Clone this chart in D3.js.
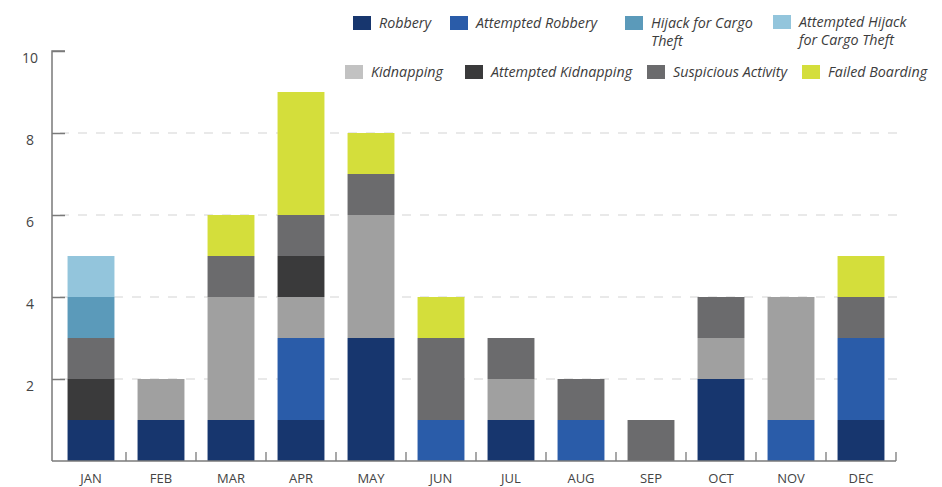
<!DOCTYPE html>
<html>
<head>
<meta charset="utf-8">
<script src="https://cdn.jsdelivr.net/npm/d3@7"></script>
<style>
  body { margin: 0; background: #fff; }
  svg { display: block; font-family: "Open Sans", sans-serif; }
</style>
</head>
<body>
<div id="chart"></div>
<script>
// Months on the x axis
var months = ["JAN","FEB","MAR","APR","MAY","JUN","JUL","AUG","SEP","OCT","NOV","DEC"];

// Incident counts per month, one array per category (stack order bottom -> top)
var robbery            = [1,1,1,1,3,0,1,0,0,2,0,1];
var attemptedRobbery   = [0,0,0,2,0,1,0,1,0,0,1,2];
var kidnapping         = [0,1,3,1,3,0,1,0,0,1,3,0];
var attemptedKidnap    = [1,0,0,1,0,0,0,0,0,0,0,0];
var suspicious         = [1,0,1,1,1,2,1,1,1,1,0,1];
var hijackCargo        = [1,0,0,0,0,0,0,0,0,0,0,0];
var attemptedHijack    = [1,0,0,0,0,0,0,0,0,0,0,0];
var failedBoarding     = [0,0,1,3,1,1,0,0,0,0,0,1];

var yTicks = [2,4,6,8,10];

var series = [
	{ key: "robbery",  label: ["Robbery"],                          values: robbery,          color: "#17366e", swatch: "#17366e" },
	{ key: "attRob",   label: ["Attempted Robbery"],                values: attemptedRobbery, color: "#2a5ca9", swatch: "#2a5ca9" },
	{ key: "kidnap",   label: ["Kidnapping"],                       values: kidnapping,       color: "#a0a0a0", swatch: "#c2c2c2" },
	{ key: "attKid",   label: ["Attempted Kidnapping"],             values: attemptedKidnap,  color: "#3a3a3b", swatch: "#3a3a3b" },
	{ key: "susp",     label: ["Suspicious Activity"],              values: suspicious,       color: "#6b6b6d", swatch: "#6b6b6d" },
	{ key: "hijack",   label: ["Hijack for Cargo", "Theft"],        values: hijackCargo,      color: "#5b9aba", swatch: "#5b9aba" },
	{ key: "attHij",   label: ["Attempted Hijack", "for Cargo Theft"], values: attemptedHijack, color: "#93c5dc", swatch: "#93c5dc" },
	{ key: "failed",   label: ["Failed Boarding"],                  values: failedBoarding,   color: "#d4de3b", swatch: "#d4de3b" }
];

// Legend layout (order as shown in the picture)
var legendOrder = ["robbery","attRob","hijack","attHij","kidnap","attKid","susp","failed"];
var legendPos = {
	robbery: [353, 16], attRob: [450, 16], hijack: [625, 16], attHij: [773, 15],
	kidnap:  [345, 65], attKid: [465, 65], susp:   [647, 65], failed: [802, 65]
};

var W = 942, H = 487;
var axisX = 52, plotRight = 896, plotBottom = 461, plotTop = 51;

var svg = d3.select('#chart').append('svg')
	.attr('width', W)
	.attr('height', H);

var x = d3.scaleBand()
	.domain(months)
	.range([56, plotRight])
	.paddingInner(0.33)
	.paddingOuter(0.165);

var y = d3.scaleLinear()
	.domain([0, 10])
	.range([plotBottom, plotTop]);

// Dashed gridlines
svg.append('g')
	.selectAll('line')
	.data(yTicks.filter(function(d) { return d < 10; }))
	.enter()
	.append('line')
	.attr('x1', 58)
	.attr('x2', plotRight + 4)
	.attr('y1', function(d) { return y(d); })
	.attr('y2', function(d) { return y(d); })
	.attr('stroke', '#d4d4d4')
	.attr('stroke-width', 1.2)
	.attr('stroke-dasharray', '9,9')
	.attr('stroke-dashoffset', -20);

// Stacked bars
var table = months.map(function(m, i) {
	var row = { month: m };
	series.forEach(function(s) { row[s.key] = s.values[i]; });
	return row;
});
var stack = d3.stack().keys(series.map(function(s) { return s.key; }));
var layers = stack(table);

svg.append('g')
	.selectAll('g')
	.data(layers)
	.enter()
	.append('g')
	.attr('fill', function(d, i) { return series[i].color; })
	.selectAll('rect')
	.data(function(d) { return d.filter(function(p) { return p[1] > p[0]; }); })
	.enter()
	.append('rect')
	.attr('x', function(d) { return x(d.data.month); })
	.attr('width', x.bandwidth())
	.attr('y', function(d) { return y(d[1]); })
	.attr('height', function(d) { return y(d[0]) - y(d[1]); });

// Y axis (ticks pointing inward)
var yAxis = svg.append('g')
	.attr('transform', 'translate(' + axisX + ',0)')
	.call(d3.axisRight(y).tickValues(yTicks).tickSize(13).tickFormat(d3.format('d')));
yAxis.select('.domain')
	.attr('d', 'M13,' + plotTop + 'H0V' + plotBottom);
yAxis.selectAll('line').attr('stroke', '#7a7a7a').attr('stroke-width', 1.5);
yAxis.select('.domain').attr('stroke', '#7a7a7a').attr('stroke-width', 1.5);
yAxis.selectAll('text')
	.attr('x', -22)
	.attr('y', 7)
	.attr('text-anchor', 'middle')
	.attr('fill', '#444')
	.style('font-size', '14px')
	.style('font-family', '"Open Sans", sans-serif');

// X axis baseline and separator ticks between months
svg.append('line')
	.attr('x1', axisX).attr('x2', plotRight)
	.attr('y1', plotBottom).attr('y2', plotBottom)
	.attr('stroke', '#7a7a7a').attr('stroke-width', 1.5);

var gap = (x.step() - x.bandwidth()) / 2;
svg.append('g')
	.selectAll('line')
	.data(months)
	.enter()
	.append('line')
	.attr('x1', function(d) { return x(d) + x.bandwidth() + gap; })
	.attr('x2', function(d) { return x(d) + x.bandwidth() + gap; })
	.attr('y1', plotBottom)
	.attr('y2', plotBottom - 9)
	.attr('stroke', '#7a7a7a')
	.attr('stroke-width', 1.3);

svg.append('g')
	.selectAll('text')
	.data(months)
	.enter()
	.append('text')
	.attr('x', function(d) { return x(d) + x.bandwidth() / 2; })
	.attr('y', 483)
	.attr('text-anchor', 'middle')
	.attr('fill', '#444')
	.style('font-size', '13px')
	.text(function(d) { return d; });

// Legend
var legend = svg.append('g');
legendOrder.forEach(function(k) {
	var s = series.find(function(d) { return d.key === k; });
	var p = legendPos[k];
	legend.append('rect')
		.attr('x', p[0]).attr('y', p[1])
		.attr('width', 18).attr('height', 14)
		.attr('fill', s.swatch);
	s.label.forEach(function(line, i) {
		legend.append('text')
			.attr('x', p[0] + 26)
			.attr('y', p[1] + 12 + i * 18)
			.attr('fill', '#3c3c3c')
			.style('font-size', '14.3px')
			.style('font-style', 'italic')
			.text(line);
	});
});
</script>
</body>
</html>
